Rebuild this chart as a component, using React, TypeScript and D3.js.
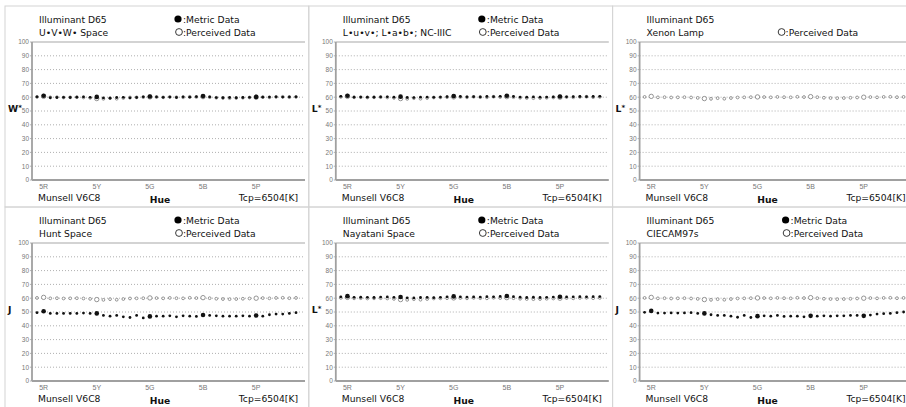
import React from "react";
import * as d3 from "d3";

const hueTicks = ["5R", "5Y", "5G", "5B", "5P"];
const hueTickIndex = [1, 9, 17, 25, 33];
const yTicks = [0, 10, 20, 30, 40, 50, 60, 70, 80, 90, 100];

const perceived = [60.2, 60.6, 59.9, 60.0, 59.8, 59.9, 60.0, 59.8, 59.5, 59.0, 58.8, 59.3, 58.9, 59.4, 59.8, 59.9, 60.0, 60.2, 60.1, 59.9, 60.2, 60.0, 59.9, 60.3, 60.1, 60.4, 60.0, 59.6, 59.4, 59.3, 59.4, 59.6, 59.8, 60.0, 60.1, 59.9, 60.2, 60.3, 60.0, 60.2];
const uvwMetric = [60.3, 61.0, 59.6, 59.8, 59.9, 59.8, 60.0, 60.2, 59.9, 60.2, 59.5, 59.3, 59.8, 59.9, 59.5, 59.8, 60.3, 60.5, 60.2, 59.9, 60.1, 59.8, 60.3, 60.0, 60.4, 60.8, 60.2, 59.7, 59.6, 59.8, 59.6, 59.8, 59.9, 60.2, 60.0, 60.1, 60.3, 60.1, 60.2, 60.3];
const labMetric = [60.6, 61.1, 60.0, 60.1, 60.0, 60.0, 60.2, 60.3, 60.0, 60.4, 59.8, 59.7, 60.0, 60.1, 59.9, 60.1, 60.4, 60.8, 60.5, 60.3, 60.4, 60.2, 60.5, 60.4, 60.6, 61.0, 60.5, 60.1, 60.0, 60.2, 60.0, 60.1, 60.2, 60.5, 60.3, 60.4, 60.5, 60.4, 60.5, 60.6];
const nayataniMetric = [61.0, 61.5, 60.6, 60.7, 60.6, 60.5, 60.8, 60.9, 60.6, 60.9, 60.3, 60.2, 60.5, 60.6, 60.4, 60.6, 61.0, 61.3, 61.0, 60.8, 60.9, 60.8, 61.1, 61.0, 61.3, 61.6, 61.1, 60.7, 60.5, 60.7, 60.5, 60.6, 60.8, 61.0, 60.9, 61.0, 61.1, 61.0, 61.1, 61.2];
const huntMetric = [49.5, 50.5, 49.0, 49.0, 49.0, 49.0, 49.0, 49.2, 49.0, 49.0, 47.5, 47.0, 47.5, 46.5, 46.0, 47.5, 45.7, 46.8, 47.0, 47.0, 47.2, 46.5, 47.2, 47.0, 46.8, 47.8, 47.5, 47.2, 47.0, 47.0, 47.0, 47.2, 47.0, 47.5, 47.0, 48.0, 48.5, 48.5, 49.0, 49.5];
const ciecamMetric = [49.8, 50.8, 49.2, 49.2, 49.3, 49.2, 49.3, 49.5, 49.0, 49.0, 48.0, 47.5, 47.5, 47.0, 46.2, 47.5, 46.0, 47.0, 47.2, 47.0, 47.5, 46.8, 47.0, 47.0, 46.5, 47.2, 47.0, 47.2, 47.0, 47.2, 47.2, 47.5, 47.5, 47.2, 47.8, 48.5, 48.8, 49.0, 49.5, 50.0];

const panelSubtitles = ["U\u2022V\u2022W\u2022 Space", "L\u2022u\u2022v\u2022; L\u2022a\u2022b\u2022; NC-IIIC", "Xenon Lamp", "Hunt Space", "Nayatani Space", "CIECAM97s"];
const panelYLabels = ["W", "L", "L", "J", "L", "J"];
const panelYStar = [true, true, true, false, true, false];
const panelMetric: (number[] | null)[] = [uvwMetric, labMetric, null, huntMetric, nayataniMetric, ciecamMetric];

const W = 906;
const H = 407;
const PW = 303.8;
const PH = 201;
const FONT = "'DejaVu Sans', sans-serif";
const SMALL = "'Liberation Sans', Arial, sans-serif";
const FS = 9.2;

function Panel({ idx }: { idx: number }) {
  const col = idx % 3;
  const row = Math.floor(idx / 3);
  const x0 = 5 + col * PW;
  const y0 = 6 + row * PH;
  const left = 27;
  const top = 36;
  const bottom = 174;
  const right = 300;
  const x = d3.scaleLinear().domain([0, 39]).range([left + 5, left + 264]);
  const y = d3.scaleLinear().domain([0, 100]).range([bottom, top]);
  const metric = panelMetric[idx];
  const big = (i: number) => hueTickIndex.includes(i);
  const legendX = idx === 2 ? 168 : 173;
  return (
    <g transform={`translate(${x0},${y0})`} fontFamily={FONT}>
      <rect x={0} y={0} width={PW} height={PH} fill="none" stroke="#d4d4d4" strokeWidth={1} />
      {yTicks.filter((t) => t > 0 && t < 100).map((t) => (
        <line key={t} x1={left} x2={right} y1={y(t)} y2={y(t)} stroke="#9a9a9a" strokeWidth={0.8} strokeDasharray="1,2" />
      ))}
      {yTicks.map((t) => (
        <g key={"t" + t}>
          <line x1={left - 2} x2={left} y1={y(t)} y2={y(t)} stroke="#a0a0a0" strokeWidth={0.8} />
          <text x={left - 3} y={y(t) + 2.3} fontSize={6.5} fill="#777" textAnchor="end" fontFamily={SMALL}>{t}</text>
        </g>
      ))}
      <line x1={left} x2={right} y1={y(100)} y2={y(100)} stroke="#a8a8a8" strokeWidth={1.2} />
      <line x1={left} x2={left} y1={y(100)} y2={y(0)} stroke="#a0a0a0" strokeWidth={1.8} />
      <line x1={left} x2={right} y1={y(0)} y2={y(0)} stroke="#a0a0a0" strokeWidth={1.8} />
      {hueTickIndex.map((hi, k) => (
        <text key={hueTicks[k]} x={x(hi)} y={bottom + 9} fontSize={7} fill="#777" textAnchor="middle" fontFamily={SMALL}>{hueTicks[k]}</text>
      ))}
      <text x={33} y={194.5} fontSize={FS} fill="#111">Munsell V6C8</text>
      <text x={155} y={197} fontSize={FS} fontWeight="bold" fill="#111" textAnchor="middle">Hue</text>
      <text x={293} y={194.5} fontSize={FS} fill="#111" textAnchor="end">Tcp=6504[K]</text>
      <text x={3} y={y(50) + 1} fontSize={FS} fontWeight="bold" fill="#111">
        {panelYLabels[idx]}
        {panelYStar[idx] ? <tspan fontSize={7} dy={-2}>*</tspan> : null}
      </text>
      <text x={34} y={16.5} fontSize={FS} fill="#111">Illuminant D65</text>
      <text x={34} y={29.5} fontSize={FS} fill="#111">{panelSubtitles[idx]}</text>
      {metric ? (
        <g>
          <circle cx={legendX} cy={13} r={3.6} fill="#000" />
          <text x={legendX + 5} y={16.5} fontSize={FS} fill="#111">:Metric Data</text>
        </g>
      ) : null}
      <circle cx={legendX + 1} cy={26} r={3.4} fill="#fff" stroke="#222" strokeWidth={0.9} />
      <text x={legendX + 5} y={29.5} fontSize={FS} fill="#111">:Perceived Data</text>
      {perceived.map((v, i) => (
        <circle key={"p" + i} cx={x(i)} cy={y(v)} r={big(i) ? 2.2 : 1.4} fill="#fff" stroke="#888" strokeWidth={0.9} />
      ))}
      {metric
        ? metric.map((v, i) => (
            <circle key={"m" + i} cx={x(i)} cy={y(v)} r={big(i) ? 2.3 : 1.4} fill="#111" />
          ))
        : null}
    </g>
  );
}

export default function App() {
  return (
    <svg width={W} height={H} style={{ display: "block", position: "absolute", left: 0, top: 0 }}>
      <rect width={W} height={H} fill="#fff" />
      {[0, 1, 2, 3, 4, 5].map((i) => (
        <Panel key={i} idx={i} />
      ))}
    </svg>
  );
}
